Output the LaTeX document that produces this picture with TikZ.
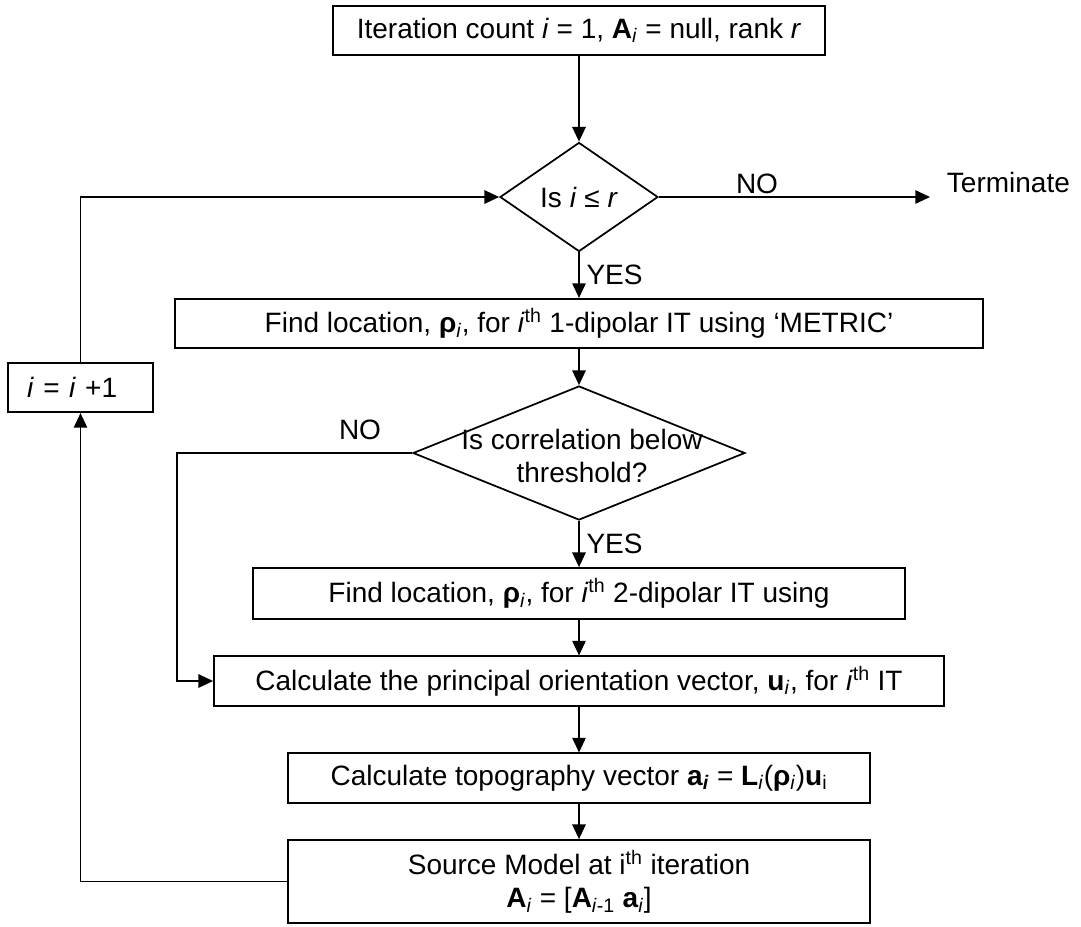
\documentclass[tikz,border=0pt]{standalone}
\usepackage{fontspec}
\setmainfont{Liberation Sans}
\usetikzlibrary{arrows.meta,shapes.geometric}
\tikzset{
    box/.style={draw, line width=1.3pt, minimum height=37pt,
                inner sep=4pt, align=center},
    flow/.style={-{Triangle[length=11pt,width=10pt]}, line width=1.3pt},
    note/.style={inner sep=2pt},
    yes/.style={note, right, inner xsep=5pt},
    choice/.style={diamond, draw, line width=1.3pt,
                   aspect=1.45, inner sep=0pt, align=center},
}
\newcommand{\ii}{\textit{i}}

\begin{document}
\begin{tikzpicture}[x=0.75pt, y=-0.75pt, font=\fontsize{21}{25}\selectfont]
    \path[use as bounding box] (0,0) rectangle (1081,926);

    \node[box, minimum width=369pt] (init) at (579,30.5)
        {Iteration count \ii{} = 1, \textbf{A}\textsubscript{\ii} = null, rank \textit{r}};
    \node[choice, minimum width=118.5pt, minimum height=81.75pt] (cond) at (579,197)
        {Is \ii{} ≤ \textit{r}};
    \coordinate (stop) at (930,197);
    \node[note] (no1) at (757,184) {NO};
    \node[note, anchor=west] (term) at (944,182) {Terminate};
    \draw[flow] (init) -- (cond);
    \draw[flow] (cond.east) -- (stop);

    \node[box, minimum width=606pt] (loc1) at (579,323.5)
        {Find location, \textbf{ρ}\textsubscript{\ii}, for \ii\textsuperscript{th} 1-dipolar IT using ‘METRIC’};
    \draw[flow] (cond.south) -- node[yes] {YES} (loc1.north);

    \node[box, minimum width=108.75pt, text width=80pt, inner xsep=14pt,
          align=left] (incr) at (80.5,387.5) {\ii{} = \ii{} +1};

    \node[choice, minimum width=249pt, minimum height=100.5pt] (corr) at (579,453) {};
    \node[note, align=center] (corrtext) at (582,456) {Is correlation below\\threshold?};
    \draw[flow] (loc1) -- (corr);
    \node[note] (no2) at (360,430) {NO};
    \coordinate (skip) at (177,453);

    \node[box, minimum width=489pt, minimum height=38.25pt] (loc2) at (579,593.5)
        {Find location, \textbf{ρ}\textsubscript{\ii}, for \ii\textsuperscript{th} 2-dipolar IT using};
    \draw[flow] (corr.south) -- node[yes] {YES} (loc2.north);

    \node[box, minimum width=547.5pt] (calc) at (579,681)
        {Calculate the principal orientation vector, \textbf{u}\textsubscript{\ii}, for \ii\textsuperscript{th} IT};
    \draw[flow] (loc2) -- (calc);
    \draw[flow] (corr.west) -- (skip) |- (calc.west);

    \node[box, minimum width=436.5pt] (topo) at (579,778)
        {Calculate topography vector \textbf{a}\textsubscript{\textbf{\ii}} = \textbf{L}\textsubscript{\ii}(\textbf{ρ}\textsubscript{\ii})\textbf{u}\textsubscript{i}};
    \draw[flow] (calc) -- (topo);

    \node[box, minimum width=436.5pt, minimum height=62.25pt] (model) at (579,881.5)
        {Source Model at i\textsuperscript{th} iteration\\
         \textbf{A}\textsubscript{\ii} = [\textbf{A}\textsubscript{\ii-1} \textbf{a}\textsubscript{\ii}]};
    \draw[flow] (topo) -- (model);

    % loop back
    \draw[flow] (model.west) -| (incr.south);
    \draw[flow] (incr.north) |- (cond.west);
\end{tikzpicture}
\end{document}
